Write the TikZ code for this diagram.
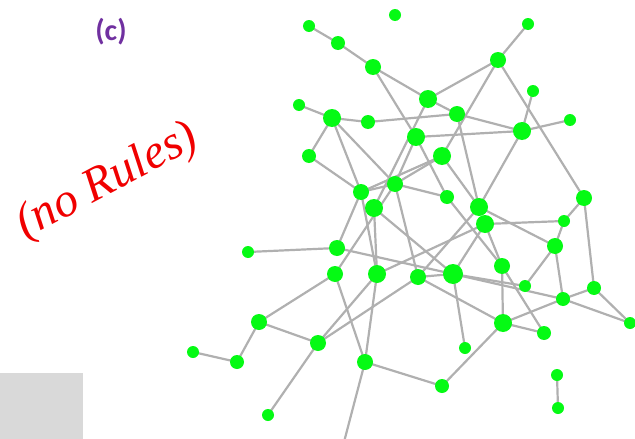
\documentclass[tikz,border=0pt]{standalone}
\usepackage{fontspec}
\setmainfont{Liberation Serif}
\newfontfamily\calib{Carlito}
\usetikzlibrary{backgrounds}
\definecolor{nodegreen}{RGB}{5,250,20}
\definecolor{edgegray}{RGB}{176,176,176}
\definecolor{labpurple}{RGB}{112,48,160}
\definecolor{boxgray}{RGB}{217,217,217}
\definecolor{inkred}{RGB}{240,0,0}
\tikzset{
  vtx/.style={circle, fill=nodegreen, draw=none, inner sep=0pt, minimum size=#1},
  vtx/.default=14pt,
  lnk/.style={draw=edgegray, line width=2.2pt},
}
\begin{document}
\begin{tikzpicture}[x=1pt, y=-1pt]
\useasboundingbox (0,0) rectangle (635,439);
\fill[boxgray] (0,373) rectangle (83,439);
\node[font=\calib\bfseries\fontsize{30}{34}\selectfont, text=labpurple] (lab) at (111,32) {(c)};
\node[font=\itshape\fontsize{48}{52}\selectfont, text=inkred, rotate=28] (note) at (108,182) {(no Rules)};
% nodes
\node[vtx=12pt] (n1) at (309,26) {};
\node[vtx=14pt] (n2) at (338,43) {};
\node[vtx=16pt] (n3) at (373,67) {};
\node[vtx=12pt] (n4) at (395,15) {};
\node[vtx=12pt] (n5) at (528,24) {};
\node[vtx=16pt] (n6) at (498,60) {};
\node[vtx=18pt] (n7) at (428,99) {};
\node[vtx=16pt] (n8) at (457,114) {};
\node[vtx=12pt] (n9) at (299,105) {};
\node[vtx=18pt] (n10) at (332,118) {};
\node[vtx=14pt] (n11) at (368,122) {};
\node[vtx=18pt] (n12) at (416,137) {};
\node[vtx=12pt] (n13) at (533,91) {};
\node[vtx=12pt] (n14) at (570,120) {};
\node[vtx=18pt] (n15) at (522,131) {};
\node[vtx=14pt] (n16) at (309,156) {};
\node[vtx=18pt] (n17) at (442,156) {};
\node[vtx=16pt] (n18) at (361,192) {};
\node[vtx=16pt] (n19) at (395,184) {};
\node[vtx=18pt] (n20) at (374,208) {};
\node[vtx=14pt] (n21) at (447,197) {};
\node[vtx=18pt] (n22) at (479,207) {};
\node[vtx=18pt] (n23) at (485,224) {};
\node[vtx=16pt] (n24) at (584,198) {};
\node[vtx=12pt] (n25) at (564,221) {};
\node[vtx=16pt] (n26) at (555,246) {};
\node[vtx=12pt] (n27) at (248,252) {};
\node[vtx=16pt] (n28) at (337,248) {};
\node[vtx=16pt] (n29) at (335,274) {};
\node[vtx=18pt] (n30) at (377,274) {};
\node[vtx=16pt] (n31) at (418,277) {};
\node[vtx=20pt] (n32) at (453,274) {};
\node[vtx=16pt] (n33) at (502,266) {};
\node[vtx=12pt] (n34) at (525,286) {};
\node[vtx=14pt] (n35) at (563,299) {};
\node[vtx=14pt] (n36) at (594,288) {};
\node[vtx=12pt] (n37) at (630,323) {};
\node[vtx=18pt] (n38) at (503,323) {};
\node[vtx=14pt] (n39) at (544,333) {};
\node[vtx=16pt] (n40) at (259,322) {};
\node[vtx=16pt] (n41) at (318,343) {};
\node[vtx=12pt] (n42) at (193,352) {};
\node[vtx=14pt] (n43) at (237,362) {};
\node[vtx=16pt] (n44) at (365,362) {};
\node[vtx=12pt] (n45) at (465,348) {};
\node[vtx=14pt] (n46) at (442,386) {};
\node[vtx=12pt] (n47) at (557,375) {};
\node[vtx=12pt] (n48) at (558,408) {};
\node[vtx=12pt] (n49) at (268,415) {};
\coordinate (off) at (344,442);
% edges
\begin{scope}[on background layer]
\foreach \a/\b in {n1/n2, n2/n3, n3/n7, n3/n12, n5/n6, n6/n7, n6/n17, n6/n24,
  n7/n8, n7/n20, n12/n19, n9/n10, n10/n11, n10/n16, n10/n18, n10/n19, n11/n8,
  n12/n15, n12/n21, n8/n15, n8/n22, n13/n15, n14/n15, n15/n22, n16/n18,
  n17/n18, n17/n19, n17/n22, n18/n19, n19/n21, n18/n28, n18/n30, n20/n30,
  n20/n32, n19/n31, n29/n19, n27/n28, n28/n32, n30/n23, n22/n31, n23/n25,
  n22/n26, n23/n33, n23/n32, n21/n33, n24/n25, n25/n26, n24/n36, n26/n35,
  n26/n34, n35/n36, n36/n37, n35/n37, n35/n38, n33/n38, n33/n39, n38/n39,
  n32/n34, n32/n35, n31/n32, n31/n38, n38/n46, n32/n45, n29/n40, n40/n41,
  n40/n43, n42/n43, n41/n49, n41/n30, n41/n31, n29/n44, n30/n44, n44/n46,
  n44/off, n47/n48}
  \draw[lnk] (\a.center) -- (\b.center);
\end{scope}
\end{tikzpicture}
\end{document}
